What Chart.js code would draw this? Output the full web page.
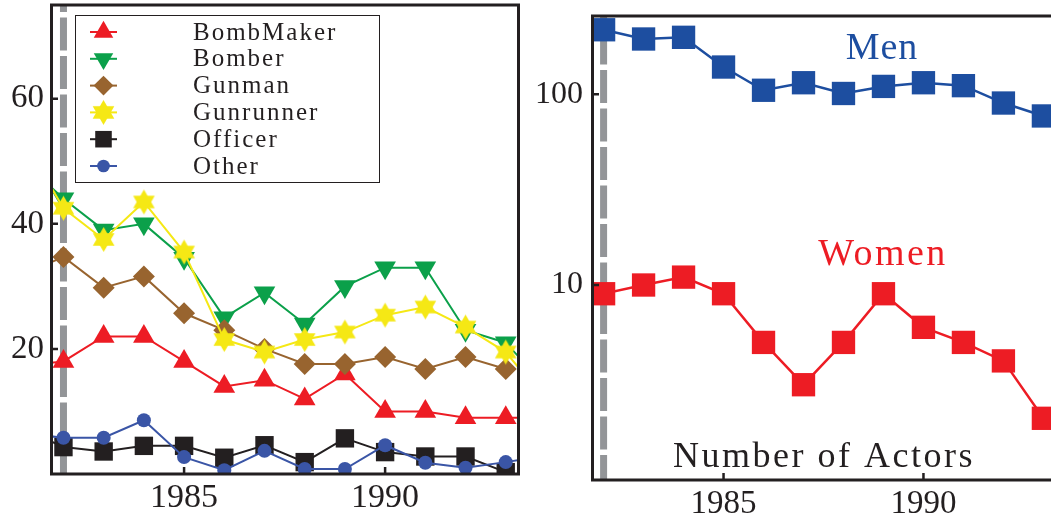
<!DOCTYPE html>
<html>
<head>
<meta charset="utf-8">
<script src="https://cdn.jsdelivr.net/npm/chart.js@4/dist/chart.umd.min.js"></script>
<style>
  html, body { margin: 0; padding: 0; background: #fff; }
  #wrap { position: relative; width: 1051px; height: 520px; overflow: hidden; }
  #left { position: absolute; left: 0; top: 0; width: 530px; height: 520px; }
  #right { position: absolute; left: 530px; top: 0; width: 521px; height: 520px; }
</style>
</head>
<body>
<div id="wrap">
  <div id="left"><canvas id="roles" width="530" height="520"></canvas></div>
  <div id="right"><canvas id="actors" width="521" height="520"></canvas></div>
</div>
<script>
// Years on both panels (1981 and 1994 only feed the line stubs at the frame edges)
const years = [1981, 1982, 1983, 1984, 1985, 1986, 1987, 1988, 1989, 1990, 1991, 1992, 1993, 1994];

// Left panel: actors per role
const bombMaker = [17.3, 18, 22, 22, 18, 14, 15, 12, 16, 10, 10, 9, 9, 9];
const bomber    = [50, 44, 39, 40, 34.5, 25, 29, 24, 30, 33, 33, 23, 21, 14];
const gunman    = [32, 34.7, 29.8, 31.6, 25.7, 23, 20, 17.6, 17.6, 18.7, 16.8, 18.7, 16.8, null];
const gunrunner = [53.5, 42.5, 37.5, 43.5, 35.5, 21.5, 19.5, 21.5, 22.7, 25.4, 26.7, 23.5, 19.5, 11.7];
const officer   = [7.3, 4.3, 3.6, 4.5, 4.5, 2.6, 4.6, 1.9, 5.7, 3.5, 2.8, 2.8, 0.3, null];
const other     = [6.5, 5.8, 5.8, 8.6, 2.7, 0.6, 3.7, 0.8, 0.8, 4.6, 1.8, 1.0, 1.9, 2.9];
const roleNames = ['BombMaker', 'Bomber', 'Gunman', 'Gunrunner', 'Officer', 'Other'];

// Right panel: number of actors (log scale)
const men   = [245, 218, 195, 199, 139, 105, 115, 101, 110, 115, 111, 90, 77, null];
const women = [13, 9, 10, 11, 9, 5, 3, 5, 9, 6, 5, 4, 2, null];

// Tick labels
const leftYTicks  = [20, 40, 60];
const rightYTicks = [10, 100];
const xTicks      = [1985, 1990];
const markerYear  = 1982;

const FONT = '"Liberation Serif", "Times New Roman", serif';
const INK = '#231F20';

function pts(values) {
  return years.map((y, i) => ({ x: y, y: values[i] }));
}

// filled six-pointed star marker
function hexagram(color, R) {
  const s = Math.ceil(R * 2 + 2);
  const c = document.createElement('canvas');
  c.width = s; c.height = s;
  const g = c.getContext('2d');
  g.fillStyle = color;
  const cx = s / 2, cy = s / 2;
  [-Math.PI / 2, Math.PI / 2].forEach(rot => {
    g.beginPath();
    for (let k = 0; k < 3; k++) {
      const a = rot + k * 2 * Math.PI / 3;
      g.lineTo(cx + R * Math.cos(a), cy + R * Math.sin(a));
    }
    g.closePath();
    g.fill();
  });
  return c;
}

const roleStyles = [
  { color: '#ED1C24', pointStyle: 'triangle', radius: 12.5, rotation: 0 },
  { color: '#0BA04A', pointStyle: 'triangle', radius: 12.5, rotation: 180 },
  { color: '#98642F', pointStyle: 'rectRot', radius: 11, rotation: 0 },
  { color: '#F5E815', pointStyle: hexagram('#F5E815', 12.5), radius: 12, rotation: 0 },
  { color: INK, pointStyle: 'rect', radius: 13, rotation: 0 },
  { color: '#3A55A6', pointStyle: 'circle', radius: 7, rotation: 0 }
];
const roleData = [bombMaker, bomber, gunman, gunrunner, officer, other];

// dashed reference line, inward tick marks and frame
function framePlugin(opts) {
  return {
    id: 'frame' + opts.name,
    beforeDatasetsDraw(chart) {
      const { ctx, chartArea: a, scales } = chart;
      const x = scales.x.getPixelForValue(markerYear);
      ctx.save();
      ctx.strokeStyle = '#939598';
      ctx.lineWidth = 7;
      ctx.setLineDash([33, 5.5]);
      ctx.lineDashOffset = opts.dashOffset;
      ctx.beginPath();
      ctx.moveTo(x, a.top);
      ctx.lineTo(x, a.bottom);
      ctx.stroke();
      ctx.restore();
    },
    afterDatasetsDraw(chart) {
      const { ctx, chartArea: a, scales } = chart;
      ctx.save();
      ctx.strokeStyle = INK;
      ctx.lineWidth = 2.5;
      ctx.beginPath();
      scales.x.ticks.forEach(t => {
        const px = scales.x.getPixelForValue(t.value);
        ctx.moveTo(px, a.bottom);
        ctx.lineTo(px, a.bottom - 7);
      });
      scales.y.ticks.forEach(t => {
        const py = scales.y.getPixelForValue(t.value);
        ctx.moveTo(a.left, py);
        ctx.lineTo(a.left + 7, py);
      });
      ctx.stroke();
      ctx.lineWidth = 3;
      ctx.beginPath();
      if (opts.box) {
        ctx.rect(a.left + 0.5, a.top, a.right - a.left - 1, a.bottom - a.top);
      } else {
        ctx.moveTo(a.right + 5, a.top);
        ctx.lineTo(a.left + 0.5, a.top);
        ctx.lineTo(a.left + 0.5, a.bottom);
        ctx.lineTo(a.right + 5, a.bottom);
      }
      ctx.stroke();
      ctx.restore();
    }
  };
}

const roleLegend = {
  id: 'roleLegend',
  afterDraw(chart) {
    const ctx = chart.ctx;
    ctx.save();
    ctx.strokeStyle = INK;
    ctx.lineWidth = 1;
    ctx.strokeRect(75.5, 15.5, 304, 167);
    roleNames.forEach((name, i) => {
      const st = roleStyles[i];
      const y = 32 + i * 26.8;
      ctx.strokeStyle = st.color;
      ctx.fillStyle = st.color;
      ctx.lineWidth = 2;
      ctx.setLineDash([]);
      ctx.beginPath();
      ctx.moveTo(90, y);
      ctx.lineTo(117, y);
      ctx.stroke();
      Chart.helpers.drawPoint(ctx, {
        pointStyle: st.pointStyle, rotation: st.rotation,
        radius: st.radius * 0.9, borderWidth: 0
      }, 103.5, y);
      ctx.fillStyle = INK;
      ctx.font = '25px ' + FONT;
      ctx.letterSpacing = '2px';
      ctx.textAlign = 'left';
      ctx.textBaseline = 'middle';
      ctx.fillText(name, 193, y + 1);
    });
    ctx.restore();
  }
};

const actorLabels = {
  id: 'actorLabels',
  afterDraw(chart) {
    const ctx = chart.ctx;
    ctx.save();
    ctx.textAlign = 'center';
    ctx.textBaseline = 'alphabetic';
    ctx.font = '38px ' + FONT;
    ctx.letterSpacing = '1px';
    ctx.fillStyle = '#1D4EA0';
    ctx.fillText('Men', 352, 59);
    ctx.letterSpacing = '2.5px';
    ctx.fillStyle = '#ED1C24';
    ctx.fillText('Women', 353, 265);
    ctx.font = '36px ' + FONT;
    ctx.letterSpacing = '2.5px';
    ctx.fillStyle = INK;
    ctx.fillText('Number of Actors', 294, 467);
    ctx.restore();
  }
};

function baseOptions(cfg) {
  return {
    responsive: false,
    animation: false,
    devicePixelRatio: 1,
    layout: { padding: cfg.padding, autoPadding: false },
    plugins: { legend: { display: false }, tooltip: { enabled: false } },
    scales: {
      x: {
        type: 'linear', min: cfg.xMin, max: cfg.xMax,
        grid: { display: false, drawTicks: false },
        border: { display: false },
        ticks: {
          color: INK, padding: cfg.xPad,
          font: { family: FONT, size: cfg.xFont },
          callback: v => String(v)
        },
        afterBuildTicks: s => { s.ticks = xTicks.map(v => ({ value: v })); },
        afterFit: s => {
          s.height = cfg.xHeight;
          s.paddingLeft = 0; s.paddingRight = 0;
        }
      },
      y: {
        type: cfg.yType, min: cfg.yMin, max: cfg.yMax,
        grid: { display: false, drawTicks: false },
        border: { display: false },
        ticks: {
          color: INK, padding: cfg.yPad,
          font: { family: FONT, size: cfg.yFont },
          callback: v => String(v)
        },
        afterBuildTicks: s => { s.ticks = cfg.yTicks.map(v => ({ value: v })); },
        afterFit: s => {
          s.width = cfg.yWidth;
          s.paddingTop = 0; s.paddingBottom = 0;
        }
      }
    }
  };
}

new Chart(document.getElementById('roles'), {
  type: 'line',
  data: {
    datasets: roleNames.map((name, i) => ({
      label: name,
      data: pts(roleData[i]),
      borderColor: roleStyles[i].color,
      backgroundColor: roleStyles[i].color,
      borderWidth: 2,
      pointStyle: roleStyles[i].pointStyle,
      pointRotation: roleStyles[i].rotation,
      pointRadius: roleStyles[i].radius,
      pointBorderWidth: 0,
      pointBackgroundColor: roleStyles[i].color,
      spanGaps: false,
      clip: 0,
      order: roleNames.length - i
    }))
  },
  options: baseOptions({
    padding: { top: 5, right: 11, left: 0, bottom: 0 },
    xMin: 1981.69, xMax: 1993.33, xPad: 4, xFont: 34, xHeight: 46,
    yType: 'linear', yMin: 0, yMax: 75, yPad: 7, yFont: 33, yWidth: 51,
    yTicks: leftYTicks
  }),
  plugins: [framePlugin({ name: 'L', dashOffset: 26, box: true }), roleLegend]
});

new Chart(document.getElementById('actors'), {
  type: 'line',
  data: {
    datasets: [
      { label: 'Men', data: pts(men), color: '#1D4EA0' },
      { label: 'Women', data: pts(women), color: '#ED1C24' }
    ].map(d => ({
      label: d.label,
      data: d.data,
      borderColor: d.color,
      backgroundColor: d.color,
      borderWidth: 2.5,
      pointStyle: 'rect',
      pointRadius: 16.5,
      pointBorderWidth: 0,
      pointBackgroundColor: d.color,
      clip: 0
    }))
  },
  options: baseOptions({
    padding: { top: 16, right: 0, left: 0, bottom: 0 },
    xMin: 1981.71, xMax: 1993.19, xPad: 5, xFont: 33, xHeight: 40,
    yType: 'logarithmic', yMin: 0.9495, yMax: 257.4, yPad: 9, yFont: 32, yWidth: 62,
    yTicks: rightYTicks
  }),
  plugins: [framePlugin({ name: 'R', dashOffset: 23, box: false }), actorLabels]
});
</script>
</body>
</html>
